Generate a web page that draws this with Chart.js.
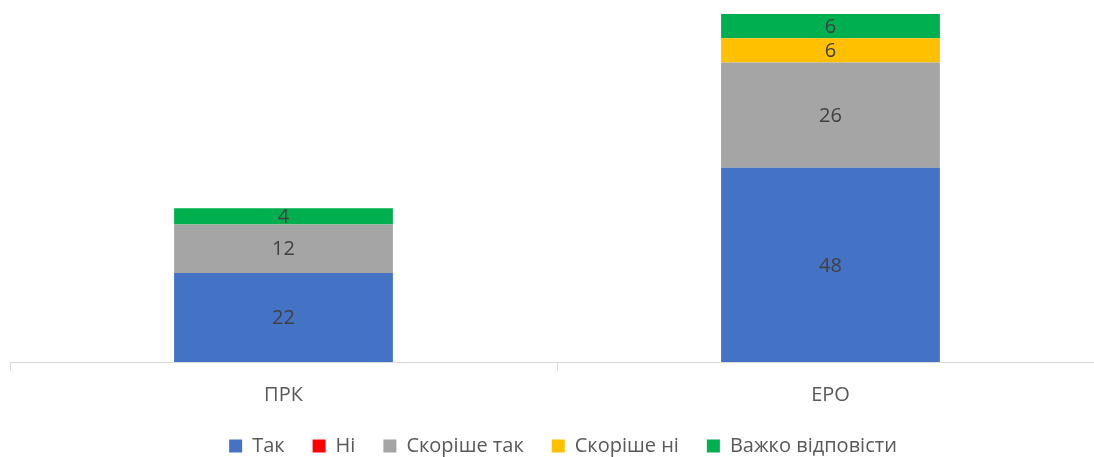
<!DOCTYPE html>
<html>
<head>
<meta charset="utf-8">
<script src="https://cdn.jsdelivr.net/npm/chart.js@4/dist/chart.umd.min.js"></script>
<style>
  html, body { margin: 0; padding: 0; background: #fff; overflow: hidden; }
  #outer { width: 1094px; height: 457px; overflow: hidden; }
  #wrap { width: 1104px; height: 457px; position: relative; }
</style>
</head>
<body>
<div id="outer"><div id="wrap"><canvas id="myChart"></canvas></div></div>
<script>
var categories = ['ПРК', 'ЕРО'];
var seriesNames = ['Так', 'Ні', 'Скоріше так', 'Скоріше ні', 'Важко відповісти'];
var tak = [22, 48];
var ni = [0, 0];
var skorisheTak = [12, 26];
var skorisheNi = [0, 6];
var vazhko = [4, 6];
var colors = ['#4472C4', '#FF0000', '#A5A5A5', '#FFC000', '#00B050'];

var seriesValues = [tak, ni, skorisheTak, skorisheNi, vazhko];
var FONT = '"Open Sans", "Noto Sans", sans-serif';

// draw value labels in the middle of each segment
var valueLabels = {
  id: 'valueLabels',
  afterDatasetsDraw: function (chart) {
    var ctx = chart.ctx;
    ctx.save();
    ctx.font = '20px ' + FONT;
    ctx.fillStyle = '#404040';
    ctx.textAlign = 'center';
    ctx.textBaseline = 'middle';
    chart.data.datasets.forEach(function (ds, i) {
      var meta = chart.getDatasetMeta(i);
      meta.data.forEach(function (bar, j) {
        var v = ds.data[j];
        if (!v) return;
        ctx.fillText(String(v), bar.x, (bar.y + bar.base) / 2 + 1);
      });
    });
    ctx.restore();
  }
};

// move the legend a bit after layout (and keep its clip box big enough)
var legendShift = {
  id: 'legendShift',
  afterLayout: function (chart) {
    var lg = chart.legend;
    if (!lg) return;
    lg.top -= 11;
    lg.bottom = chart.height;
    lg.left += 6;
    lg.right += 6;
  }
};

var datasets = seriesNames.map(function (name, i) {
  return {
    label: name,
    data: seriesValues[i],
    backgroundColor: colors[i],
    borderWidth: 0,
    categoryPercentage: 1.0,
    barPercentage: 0.4
  };
});

var ctx = document.getElementById('myChart').getContext('2d');
var myChart = new Chart(ctx, {
  type: 'bar',
  data: { labels: categories, datasets: datasets },
  plugins: [valueLabels, legendShift],
  options: {
    responsive: true,
    maintainAspectRatio: false,
    animation: false,
    layout: { padding: { top: 14, left: 10, right: 0, bottom: 0 } },
    scales: {
      x: {
        stacked: true,
        grid: {
          drawOnChartArea: false,
          drawTicks: true,
          tickLength: 9,
          color: '#D9D9D9',
          offset: true
        },
        border: { color: '#D9D9D9', width: 1 },
        ticks: {
          color: '#595959',
          font: { family: FONT, size: 20 },
          padding: 12
        }
      },
      y: {
        stacked: true,
        display: false,
        min: 0,
        max: 86
      }
    },
    plugins: {
      tooltip: { enabled: false },
      legend: {
        position: 'bottom',
        maxHeight: 38,
        labels: {
          boxWidth: 13,
          boxHeight: 13,
          color: '#595959',
          padding: 28,
          font: { family: FONT, size: 20 }
        }
      }
    }
  }
});
</script>
</body>
</html>
